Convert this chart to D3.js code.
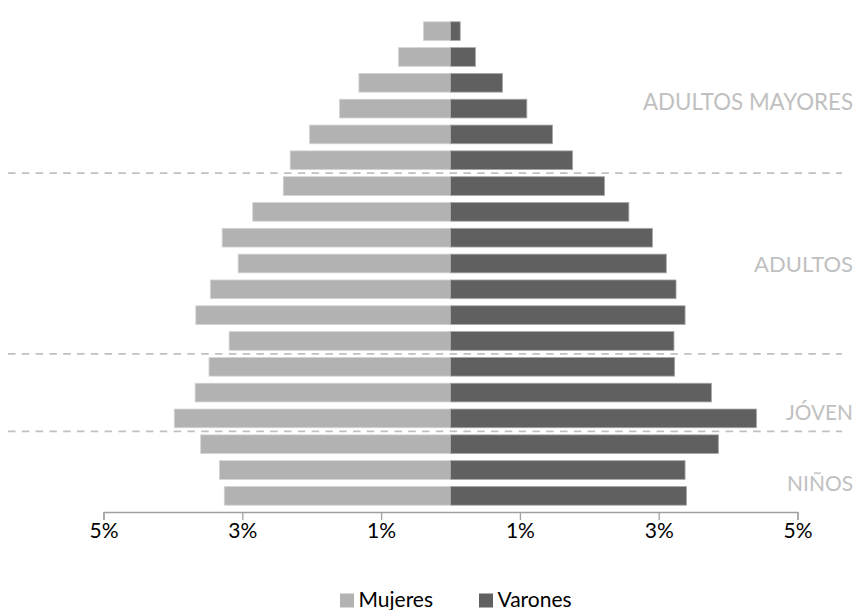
<!DOCTYPE html>
<html lang="es">
<head>
<meta charset="utf-8">
<title>Pirámide poblacional</title>
<script src="https://cdn.jsdelivr.net/npm/d3@7/dist/d3.min.js"></script>
<style>
  html, body { margin: 0; padding: 0; background: #ffffff; }
  svg { display: block; font-family: Lato, "Open Sans", sans-serif; }
</style>
</head>
<body>
<svg id="chart" width="861" height="610"></svg>
<script>
// Age groups, oldest at the top
const ageGroups = ["90+", "85-89", "80-84", "75-79", "70-74", "65-69", "60-64", "55-59",
  "50-54", "45-49", "40-44", "35-39", "30-34", "25-29", "20-24", "15-19",
  "10-14", "5-9", "0-4"];

// Share of the total population (%) per age group
const mujeres = [0.39, 0.75, 1.32, 1.60, 2.03, 2.31, 2.41, 2.85, 3.29, 3.06,
  3.46, 3.67, 3.19, 3.48, 3.68, 3.98, 3.60, 3.33, 3.26];
const varones = [0.14, 0.36, 0.75, 1.10, 1.47, 1.76, 2.22, 2.57, 2.91, 3.11,
  3.25, 3.38, 3.22, 3.23, 3.76, 4.41, 3.86, 3.38, 3.40];

// Life stages: label and the youngest age group that closes each stage
const stageNames = ["ADULTOS MAYORES", "ADULTOS", "JÓVEN", "NIÑOS"];
const stageLast = ["65-69", "30-34", "15-19", "0-4"];

// Axis ticks (percent, mirrored around zero)
const tickValues = [-5, -3, -1, 1, 3, 5];

const seriesNames = ["Mujeres", "Varones"];
const colors = { Mujeres: "#b2b2b2", Varones: "#606060" };

const svg = d3.select("#chart");

const x = d3.scaleLinear().domain([-5, 5]).range([103.5, 797.5]);
const y = d3.scaleBand().domain(ageGroups).range([14.7, 512.3]).padding(0.275);

const rows = ageGroups.map((g, i) => ({ group: g, m: mujeres[i], v: varones[i] }));

// Bars
const bars = svg.append("g");
bars.selectAll("rect.m").data(rows).join("rect")
  .attr("class", "m")
  .attr("x", d => x(-d.m))
  .attr("y", d => y(d.group))
  .attr("width", d => x(0) - x(-d.m))
  .attr("height", y.bandwidth())
  .attr("fill", colors.Mujeres)
  .attr("stroke", "#d4d4d4")
  .attr("stroke-width", 0.8);

bars.selectAll("rect.v").data(rows).join("rect")
  .attr("class", "v")
  .attr("x", x(0))
  .attr("y", d => y(d.group))
  .attr("width", d => x(d.v) - x(0))
  .attr("height", y.bandwidth())
  .attr("fill", colors.Varones)
  .attr("stroke", "#a8a8a8")
  .attr("stroke-width", 0.8);

// Dashed separators between life stages (all but the last stage)
const gap = (y.step() - y.bandwidth()) / 2;
svg.append("g").selectAll("line").data(stageLast.slice(0, -1)).join("line")
  .attr("x1", 8).attr("x2", 842)
  .attr("y1", d => y(d) + y.bandwidth() + gap)
  .attr("y2", d => y(d) + y.bandwidth() + gap)
  .attr("stroke", "#c0c0c0")
  .attr("stroke-width", 1.7)
  .attr("stroke-dasharray", "7.5,6.3");

// Stage labels on the right; font size is fitted so each label spans its width
const stageLabelY = [109.5, 271.5, 420, 491];
const stageLabelW = [210, 99, 67, 66];
svg.append("g").selectAll("text").data(stageNames).join("text")
  .attr("x", 853)
  .attr("y", (d, i) => stageLabelY[i])
  .attr("text-anchor", "end")
  .attr("font-size", 25)
  .attr("fill", "#c0c0c0")
  .text(d => d)
  .each(function (d, i) {
    const natural = this.getComputedTextLength();
    const size = Math.min(25, 25 * stageLabelW[i] / natural);
    d3.select(this).attr("font-size", size.toFixed(2));
  });

// Horizontal axis
const axis = d3.axisBottom(x)
  .tickValues(tickValues)
  .tickSize(8)
  .tickPadding(3)
  .tickFormat(d => Math.abs(d) + "%");

const gAxis = svg.append("g")
  .attr("transform", "translate(0,512)")
  .call(axis);
gAxis.select(".domain").attr("stroke", "#a0a0a0").attr("stroke-width", 1.3);
gAxis.selectAll(".tick line").attr("stroke", "#a0a0a0").attr("stroke-width", 1.3);
gAxis.selectAll(".tick text")
  .attr("font-size", 21)
  .attr("fill", "#000")
  .attr("font-family", "Lato, sans-serif");

// Legend
const legendX = [340, 479];
const legend = svg.append("g").selectAll("g").data(seriesNames).join("g")
  .attr("transform", (d, i) => `translate(${legendX[i]},593.5)`);
legend.append("rect")
  .attr("width", 14).attr("height", 14)
  .attr("fill", d => colors[d]);
legend.append("text")
  .attr("x", 18.5).attr("y", 13)
  .attr("font-size", 21)
  .attr("fill", "#000")
  .text(d => d);
</script>
</body>
</html>
